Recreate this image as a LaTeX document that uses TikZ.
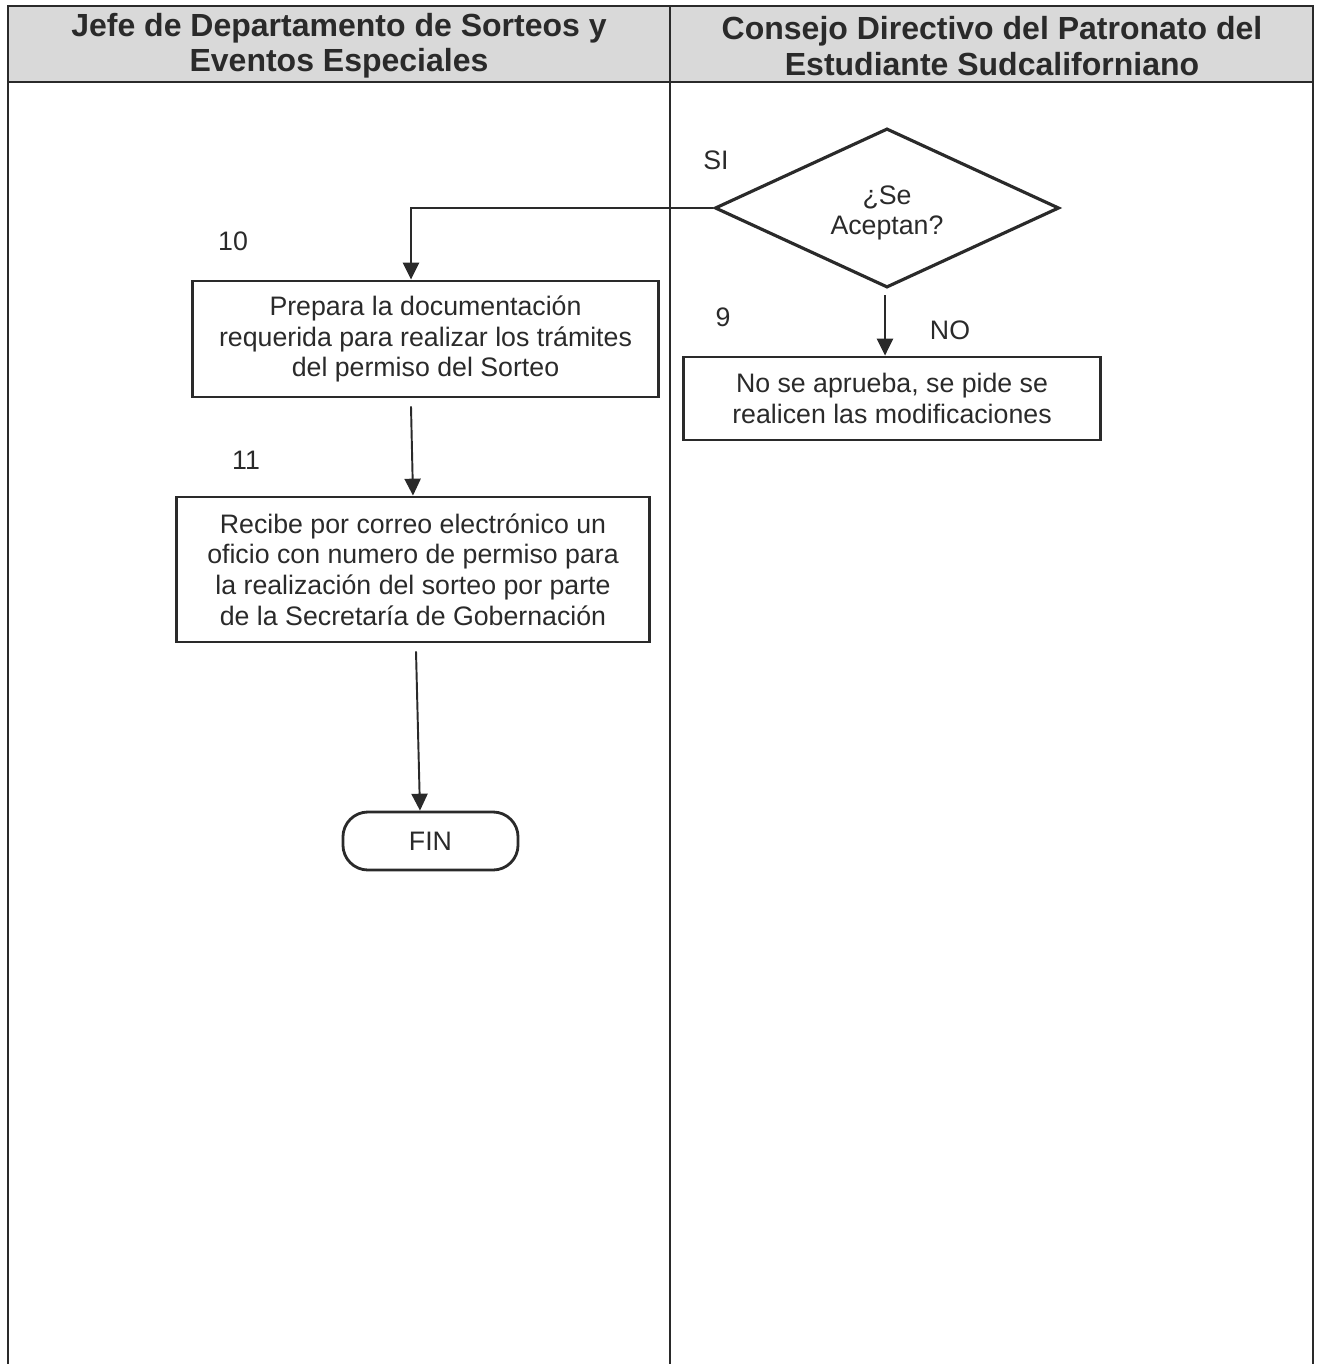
\documentclass[tikz,border=0pt]{standalone}
\usepackage{fontspec}
\setmainfont{Liberation Sans}
\usetikzlibrary{arrows.meta,shapes.geometric}
\definecolor{ink}{HTML}{2A2A2A}
\definecolor{headfill}{HTML}{D9D9D9}
\begin{document}
\begin{tikzpicture}[x=0.01cm,y=-0.01cm,
  rule/.style={draw=ink,line width=0.8pt},
  headtxt/.style={font=\fontsize{9.1}{10}\selectfont\bfseries,text=ink,align=center},
  body/.style={font=\fontsize{7.6}{8.7}\selectfont,text=ink,align=center},
  procbox/.style={body,draw=ink,line width=0.8pt,inner sep=0pt},
  endbox/.style={procbox,rounded corners=2.5mm},
  decision/.style={draw=ink,line width=0.9pt,shape=diamond,inner sep=0pt,
    minimum width=3.44cm,minimum height=1.59cm},
  lbl/.style={body,anchor=center},
  arr/.style={draw=ink,line width=0.55pt,-{Triangle[width=4.6pt,length=4.8pt]}}]

\useasboundingbox (0,0) rectangle (1317,1364);

% swimlane frame
\fill[headfill] (8,6) rectangle (1313,82);
\draw[rule] (8,1364) -- (8,6) -- (1313,6) -- (1313,1364);
\draw[rule] (8,82) -- (1313,82);
\draw[rule] (670,6) -- (670,1364);

\node[headtxt] (laneA) at (339,46) {Jefe de Departamento de Sorteos y\\Eventos Especiales};
\node[headtxt] (laneB) at (992,46) {Consejo Directivo del Patronato del\\Estudiante Sudcaliforniano};

% decision
\node[decision] (dia) at (887,208) {};
\node[body] (diatxt) at (887,213) {¿Se\\Aceptan?};
\node[lbl] (si) at (716,160) {SI};
\node[lbl] (no) at (950,330) {NO};
\node[lbl] (n9) at (723,317) {9};

\node[procbox,minimum width=4.16cm,minimum height=0.83cm] (rej) at (892,398.5)
  {No se aprueba, se pide se\\realicen las modificaciones};

% left lane process
\node[lbl] (n10) at (233,241) {10};
\node[procbox,minimum width=4.65cm,minimum height=1.16cm] (prep) at (425.5,339)
  {Prepara la documentación\\requerida para realizar los trámites\\del permiso del Sorteo};

\node[lbl] (n11) at (246,460) {11};
\node[procbox,minimum width=4.72cm,minimum height=1.45cm] (recv) at (413,569.5)
  {Recibe por correo electrónico un\\oficio con numero de permiso para\\la realización del sorteo por parte\\de la Secretaría de Gobernación};

\node[endbox,minimum width=1.75cm,minimum height=0.58cm] (fin) at (430.5,841) {FIN};

% connectors
\coordinate (turn) at (411,208);
\draw[arr] (dia.west) -- (turn) -- (turn |- prep.north);
\draw[arr] ([xshift=-0.145cm,yshift=-0.08cm]prep.south) -- (recv.north);
\draw[arr] ([xshift=0.03cm,yshift=-0.08cm]recv.south) -- ([xshift=-0.105cm]fin.north);
\draw[arr] ([xshift=-0.02cm,yshift=-0.06cm]dia.south) -- ([xshift=-0.07cm]rej.north);
\end{tikzpicture}
\end{document}
